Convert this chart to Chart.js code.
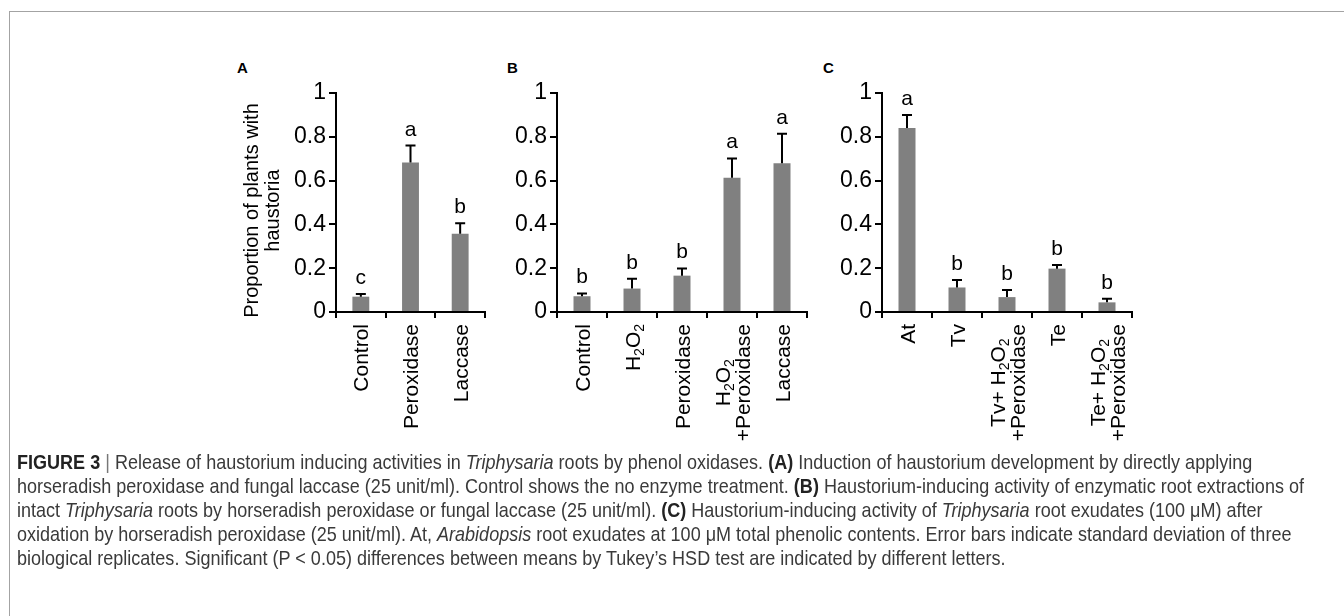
<!DOCTYPE html>
<html>
<head>
<meta charset="utf-8">
<script src="https://cdn.jsdelivr.net/npm/chart.js@4.4.1/dist/chart.umd.min.js"></script>
<style>
html, body { margin: 0; padding: 0; background: #fff; }
body { width: 1344px; height: 616px; position: relative; overflow: hidden; }
#frame { position: absolute; left: 9px; top: 11px; right: -2px; bottom: -2px; border-top: 1px solid #a3a3a3; border-left: 1px solid #a3a3a3; }
canvas { position: absolute; }
.tag { position: absolute; font: bold 15px "Liberation Sans", Arial, sans-serif; line-height: 15px; color: #000; }
#caption { position: absolute; left: 17px; top: 450px; font-family: "Liberation Sans", Arial, sans-serif; font-size: 21px; line-height: 24px; color: #3a3a3a; white-space: nowrap; transform-origin: 0 0; }
#caption b { color: #222; }
#caption .sep { color: #777; }
</style>
</head>
<body>
<div id="frame"></div>
<div class="tag" style="left:237px; top:60px;">A</div>
<div class="tag" style="left:507px; top:60px;">B</div>
<div class="tag" style="left:823px; top:60px;">C</div>
<canvas id="chartA" width="304" height="420" style="left:196px; top:40px;"></canvas>
<canvas id="chartB" width="345" height="420" style="left:480px; top:40px;"></canvas>
<canvas id="chartC" width="320" height="420" style="left:830px; top:40px;"></canvas>
<div id="caption">
<div><span><b>FIGURE 3</b> <span class="sep">|</span> Release of haustorium inducing activities in <i>Triphysaria</i> roots by phenol oxidases. <b>(A)</b> Induction of haustorium development by directly applying</span></div>
<div><span id="longLine">horseradish peroxidase and fungal laccase (25 unit/ml). Control shows the no enzyme treatment. <b>(B)</b> Haustorium-inducing activity of enzymatic root extractions of</span></div>
<div><span>intact <i>Triphysaria</i> roots by horseradish peroxidase or fungal laccase (25 unit/ml). <b>(C)</b> Haustorium-inducing activity of <i>Triphysaria</i> root exudates (100 μM) after</span></div>
<div><span>oxidation by horseradish peroxidase (25 unit/ml). At, <i>Arabidopsis</i> root exudates at 100 μM total phenolic contents. Error bars indicate standard deviation of three</span></div>
<div><span>biological replicates. Significant (P &lt; 0.05) differences between means by Tukey’s HSD test are indicated by different letters.</span></div>
</div>

<script>
const FONT = '"Liberation Sans", Arial, sans-serif';

// Panel A
const catsA = [['Control'], ['Peroxidase'], ['Laccase']];
const meanA = [0.070, 0.683, 0.357];
const sdA = [0.012, 0.077, 0.048];
const lettersA = ['c', 'a', 'b'];

// Panel B
const catsB = [['Control'], ['H_2O_2'], ['Peroxidase'], ['H_2O_2', '+Peroxidase'], ['Laccase']];
const meanB = [0.072, 0.107, 0.166, 0.613, 0.679];
const sdB = [0.013, 0.045, 0.033, 0.088, 0.135];
const lettersB = ['b', 'b', 'b', 'a', 'a'];

// Panel C
const catsC = [['At'], ['Tv'], ['Tv+ H_2O_2', '+Peroxidase'], ['Te'], ['Te+ H_2O_2', '+Peroxidase']];
const meanC = [0.840, 0.112, 0.068, 0.198, 0.044];
const sdC = [0.060, 0.034, 0.033, 0.017, 0.016];
const lettersC = ['a', 'b', 'b', 'b', 'b'];

// y axis
const yMin = 0, yMax = 1, yStep = 0.2;
const yTitle = ['Proportion of plants with', 'haustoria'];

// caption is set in a narrow face in the figure: squeeze it to the same line length
const cap = document.getElementById('caption');
const longW = document.getElementById('longLine').getBoundingClientRect().width;
cap.style.transform = 'scaleX(' + (1287 / longW) + ')';

// split 'H_2O_2' into normal / subscript parts
function parts(str) {
    const out = [];
    str.split(/(_\d+)/).forEach(p => {
        if (!p) return;
        if (p[0] === '_') out.push({ t: p.slice(1), sub: true });
        else out.push({ t: p, sub: false });
    });
    return out;
}

function richWidth(ctx, str) {
    let w = 0;
    parts(str).forEach(p => {
        ctx.font = (p.sub ? '14px ' : '21px ') + FONT;
        w += ctx.measureText(p.t).width;
    });
    return w;
}

function drawRich(ctx, str, x, base) {
    parts(str).forEach(p => {
        ctx.font = (p.sub ? '14px ' : '21px ') + FONT;
        ctx.fillText(p.t, x, p.sub ? base + 4 : base);
        x += ctx.measureText(p.t).width;
    });
}

function marksPlugin(cats, means, sds, letters, title) {
    return {
        id: 'marks',
        afterDatasetsDraw(chart) {
            const { ctx, scales: { x, y } } = chart;
            ctx.save();
            ctx.strokeStyle = '#000';
            ctx.fillStyle = '#000';
            ctx.lineWidth = 2;
            means.forEach((m, i) => {
                const px = x.getPixelForValue(i);
                const top = y.getPixelForValue(m);
                const end = y.getPixelForValue(m + sds[i]);
                ctx.beginPath();
                ctx.moveTo(px, top);
                ctx.lineTo(px, end);
                ctx.moveTo(px - 5, end);
                ctx.lineTo(px + 5, end);
                ctx.stroke();
                ctx.font = '21px ' + FONT;
                ctx.textAlign = 'center';
                ctx.textBaseline = 'alphabetic';
                ctx.fillText(letters[i], px, end - 10);
            });
            ctx.restore();
        },
        afterDraw(chart) {
            const { ctx, chartArea, scales: { x, y } } = chart;
            ctx.save();
            ctx.fillStyle = '#000';
            // y title, two centred lines, sitting a little below the middle of the axis
            if (title) {
                ctx.save();
                ctx.translate(y.left + 56, (chartArea.top + chartArea.bottom) / 2 + 8);
                ctx.rotate(-Math.PI / 2);
                ctx.font = '20px ' + FONT;
                ctx.textAlign = 'center';
                ctx.textBaseline = 'middle';
                title.forEach((t, j) => ctx.fillText(t, 0, j * 21.6));
                ctx.restore();
            }
            // rotated category labels, lines centred on each other
            const y0 = x.top + 12;
            ctx.textAlign = 'left';
            ctx.textBaseline = 'alphabetic';
            cats.forEach((lines, i) => {
                const cx = x.getPixelForValue(i);
                ctx.save();
                ctx.translate(cx, y0);
                ctx.rotate(-Math.PI / 2);
                const widths = lines.map(l => richWidth(ctx, l));
                const maxW = Math.max(...widths);
                lines.forEach((l, j) => {
                    const ly = (j - (lines.length - 1) / 2) * 20;
                    drawRich(ctx, l, -maxW / 2 - widths[j] / 2, ly + 7.5);
                });
                ctx.restore();
            });
            ctx.restore();
        }
    };
}

function makePanel(id, cats, means, sds, letters, yBoxW, padRight, title) {
    const ctx = document.getElementById(id).getContext('2d');
    return new Chart(ctx, {
        type: 'bar',
        data: {
            labels: cats.map(c => c.join(' ')),
            datasets: [{
                data: means,
                backgroundColor: '#808080',
                borderWidth: 0,
                barPercentage: 0.34,
                categoryPercentage: 1
            }]
        },
        options: {
            responsive: false,
            animation: false,
            devicePixelRatio: 1,
            layout: { padding: { top: 53, right: padRight, bottom: 0, left: 0 } },
            plugins: { legend: { display: false }, tooltip: { enabled: false } },
            scales: {
                x: {
                    offset: true,
                    grid: { offset: true, drawOnChartArea: false, drawTicks: true, tickLength: 6, color: '#000', lineWidth: 2 },
                    border: { color: '#000', width: 2 },
                    ticks: { display: false },
                    afterFit: s => { s.height = 148; }
                },
                y: {
                    min: yMin,
                    max: yMax,
                    ticks: {
                        stepSize: yStep,
                        color: '#000',
                        padding: 3,
                        font: { family: FONT, size: 23 },
                        callback: v => String(Math.round(v * 10) / 10)
                    },
                    grid: { drawOnChartArea: false, tickLength: 7, color: '#000', lineWidth: 2 },
                    border: { color: '#000', width: 2 },
                    afterFit: s => { s.width = yBoxW; }
                }
            }
        },
        plugins: [marksPlugin(cats, means, sds, letters, title)]
    });
}

makePanel('chartA', catsA, meanA, sdA, lettersA, 140, 15, yTitle);
makePanel('chartB', catsB, meanB, sdB, lettersB, 77, 18, null);
makePanel('chartC', catsC, meanC, sdC, lettersC, 52, 18, null);
</script>
</body>
</html>
